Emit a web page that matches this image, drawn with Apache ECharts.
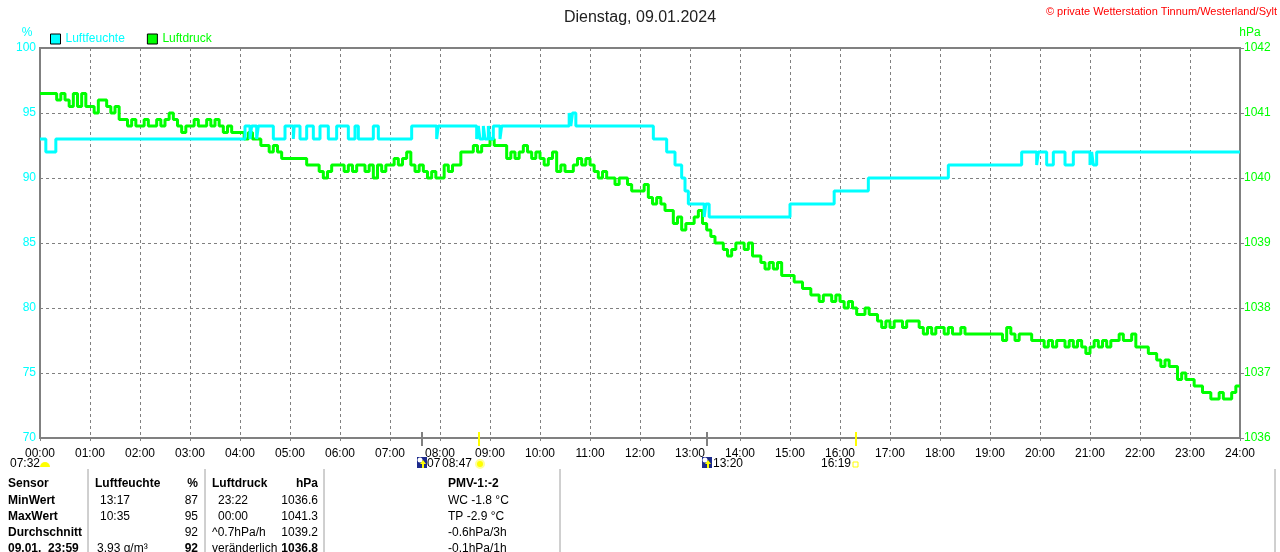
<!DOCTYPE html>
<html>
<head>
<meta charset="utf-8">
<script src="https://cdn.jsdelivr.net/npm/echarts@6/dist/echarts.min.js"></script>
<style>
  html, body { margin: 0; padding: 0; background: #fff; }
  #main { width: 1280px; height: 552px; }
</style>
</head>
<body>
<div id="main"></div>
<script>
// Luftfeuchte: Zeitpunkte (Minuten) an denen sich der Wert ändert
var humTimes = [0, 7, 19, 246, 252, 254, 260, 262, 280, 294, 304, 305, 312, 320, 328, 336, 346, 356, 370, 378, 382, 400, 406,
  446, 476, 478, 524, 526, 528, 532, 534, 538, 540, 544, 552, 554, 635, 637, 639, 643, 736, 752, 762, 770, 774, 778,
  797, 799, 803, 900, 953, 994, 1090, 1178, 1196, 1198, 1208, 1216, 1230, 1240, 1260, 1262, 1264, 1268, 1440];
var humValues = [93, 92, 93, 94, 93, 94, 93, 94, 93, 94, 93, 94, 93, 94, 93, 94, 93, 94, 93, 94, 93, 94, 93,
  94, 93, 94, 93, 94, 93, 94, 93, 94, 93, 94, 93, 94, 95, 94, 95, 94, 93, 92, 91, 90, 89, 88,
  87, 88, 87, 88, 89, 90, 91, 92, 91, 92, 91, 92, 91, 92, 91, 92, 91, 92, 92];

// Luftdruck alle 5 Minuten, eine Zeile je Stunde
var pressRows = [
  [1041.3,1041.3,1041.3,1041.3,1041.2,1041.3,1041.2,1041.1,1041.3,1041.1,1041.3,1041.1],
  [1041.1,1041.0,1041.2,1041.2,1041.1,1041.0,1041.1,1040.9,1040.9,1040.8,1040.9,1040.8],
  [1040.8,1040.9,1040.8,1040.8,1040.9,1040.8,1040.9,1041.0,1040.9,1040.8,1040.7,1040.8],
  [1040.8,1040.9,1040.8,1040.8,1040.9,1040.8,1040.9,1040.8,1040.7,1040.8,1040.7,1040.7],
  [1040.7,1040.6,1040.7,1040.6,1040.6,1040.5,1040.5,1040.4,1040.5,1040.4,1040.3,1040.3],
  [1040.3,1040.3,1040.3,1040.3,1040.2,1040.2,1040.2,1040.1,1040.0,1040.1,1040.2,1040.2],
  [1040.2,1040.1,1040.2,1040.1,1040.2,1040.2,1040.1,1040.2,1040.0,1040.2,1040.1,1040.2],
  [1040.2,1040.3,1040.2,1040.3,1040.4,1040.2,1040.1,1040.2,1040.1,1040.0,1040.1,1040.0],
  [1040.0,1040.2,1040.1,1040.2,1040.2,1040.4,1040.4,1040.4,1040.5,1040.4,1040.5,1040.5],
  [1040.6,1040.5,1040.5,1040.5,1040.3,1040.4,1040.3,1040.4,1040.5,1040.4,1040.3,1040.4],
  [1040.3,1040.2,1040.3,1040.4,1040.1,1040.2,1040.1,1040.1,1040.2,1040.3,1040.2,1040.3],
  [1040.2,1040.1,1040.0,1040.1,1040.0,1040.0,1039.9,1040.0,1040.0,1039.9,1039.8,1039.8],
  [1039.8,1039.9,1039.7,1039.6,1039.7,1039.6,1039.5,1039.5,1039.3,1039.4,1039.2,1039.3],
  [1039.3,1039.4,1039.5,1039.3,1039.2,1039.1,1039.0,1039.0,1038.9,1038.8,1038.9,1039.0],
  [1039.0,1038.9,1039.0,1038.8,1038.8,1038.7,1038.6,1038.7,1038.6,1038.7,1038.5,1038.5],
  [1038.5,1038.4,1038.4,1038.3,1038.3,1038.2,1038.2,1038.1,1038.2,1038.2,1038.1,1038.2],
  [1038.1,1038.0,1038.1,1038.0,1037.9,1037.9,1038.0,1037.9,1037.9,1037.8,1037.7,1037.8],
  [1037.7,1037.8,1037.8,1037.7,1037.8,1037.8,1037.8,1037.7,1037.6,1037.7,1037.6,1037.7],
  [1037.7,1037.6,1037.7,1037.6,1037.6,1037.7,1037.6,1037.6,1037.6,1037.6,1037.6,1037.6],
  [1037.6,1037.6,1037.6,1037.5,1037.7,1037.6,1037.5,1037.6,1037.6,1037.6,1037.5,1037.5],
  [1037.5,1037.4,1037.5,1037.4,1037.5,1037.5,1037.4,1037.5,1037.4,1037.5,1037.4,1037.3],
  [1037.4,1037.5,1037.4,1037.5,1037.4,1037.5,1037.5,1037.6,1037.5,1037.5,1037.6,1037.4],
  [1037.4,1037.4,1037.3,1037.3,1037.2,1037.1,1037.2,1037.1,1037.1,1036.9,1037.0,1036.9],
  [1036.9,1036.8,1036.8,1036.7,1036.7,1036.6,1036.6,1036.7,1036.6,1036.6,1036.7,1036.8],
  [1036.8]
];

var humTicks = [70, 75, 80, 85, 90, 95, 100];
var pressTicks = [1036, 1037, 1038, 1039, 1040, 1041, 1042];

// Mond/Sonne Markierungen unter der Zeitachse (Minuten)
var markTimes = [458, 527, 800, 979];
var markLabels = ['07', '08:47', '13:20', '16:19'];
var markColors = ['#808080', '#ffff00', '#808080', '#ffff00'];

// Tabelle
var tableRows = ['Sensor', 'MinWert', 'MaxWert', 'Durchschnitt', '09.01.  23:59'];
var humTime = ['', '13:17', '10:35', '', '3.93 g/m³'];
var humVal = ['%', '87', '95', '92', '92'];
var pressTime = ['Luftdruck', '23:22', '00:00', '^0.7hPa/h', 'veränderlich'];
var pressVal = ['hPa', '1036.6', '1041.3', '1039.2', '1036.8'];
var extraInfo = ['PMV-1:-2', 'WC -1.8 °C', 'TP -2.9 °C', '-0.6hPa/3h', '-0.1hPa/1h'];

var FONT = '"Liberation Sans", Arial, sans-serif';
var CYAN = '#00ffff', GREEN = '#00ff00', GRAY = '#808080';

function pad(n) { return (n < 10 ? '0' : '') + n; }

var humData = humTimes.map(function (t, i) { return [t, humValues[i]]; });
var pressData = [];
pressRows.forEach(function (row, h) {
    row.forEach(function (v, k) { pressData.push([h * 60 + k * 5, v]); });
});

var myChart = echarts.init(document.getElementById('main'));

var option = {
    animation: false,
    backgroundColor: '#fff',
    textStyle: { fontFamily: FONT },
    title: {
        text: 'Dienstag, 09.01.2024',
        left: 'center',
        top: 5,
        textStyle: { fontSize: 16, fontWeight: 'normal', color: '#222', fontFamily: FONT }
    },
    legend: {
        left: 50,
        top: 33,
        icon: 'rect',
        itemWidth: 10,
        itemHeight: 10,
        itemGap: 22,
        padding: 0,
        itemStyle: { borderColor: '#000', borderWidth: 1 },
        textStyle: { fontSize: 12, fontFamily: FONT },
        data: [
            { name: 'Luftfeuchte', textStyle: { color: CYAN } },
            { name: 'Luftdruck', textStyle: { color: GREEN } }
        ]
    },
    grid: {
        left: 40, right: 40, top: 48, bottom: 114,
        show: true, borderColor: GRAY, borderWidth: 2
    },
    xAxis: {
        type: 'value',
        min: 0, max: 1440, interval: 60,
        axisLine: { lineStyle: { color: GRAY, width: 2 } },
        axisTick: { show: true, length: 3, lineStyle: { color: GRAY } },
        axisLabel: {
            color: '#000', fontSize: 12, margin: 10, showMinLabel: true, showMaxLabel: true,
            formatter: function (v) { return pad(Math.round(v / 60)) + ':00'; }
        },
        splitLine: { show: true, lineStyle: { color: GRAY, type: [3, 3], width: 1 } }
    },
    yAxis: [
        {
            type: 'value',
            min: humTicks[0], max: humTicks[humTicks.length - 1], interval: 5,
            position: 'left',
            axisLine: { show: true, lineStyle: { color: GRAY, width: 2 } },
            axisTick: { show: false },
            axisLabel: { color: CYAN, fontSize: 12, margin: 4 },
            splitLine: { show: true, lineStyle: { color: GRAY, type: [3, 3], width: 1 } }
        },
        {
            type: 'value',
            min: pressTicks[0], max: pressTicks[pressTicks.length - 1], interval: 1,
            position: 'right',
            axisLine: { show: true, lineStyle: { color: GRAY, width: 2 } },
            axisTick: { show: true, length: 4, lineStyle: { color: GRAY } },
            axisLabel: { color: GREEN, fontSize: 12, margin: 4,
                formatter: function (v) { return String(v); } },
            splitLine: { show: false }
        }
    ],
    series: [
        {
            name: 'Luftfeuchte',
            type: 'line',
            step: 'end',
            yAxisIndex: 0,
            showSymbol: false,
            symbol: 'none',
            z: 4,
            color: CYAN,
            itemStyle: { color: CYAN },
            lineStyle: { color: CYAN, width: 3 },
            data: humData
        },
        {
            name: 'Luftdruck',
            type: 'line',
            step: 'end',
            yAxisIndex: 1,
            showSymbol: false,
            symbol: 'none',
            z: 3,
            color: GREEN,
            itemStyle: { color: GREEN },
            lineStyle: { color: GREEN, width: 3 },
            data: pressData
        }
    ]
};

myChart.setOption(option);

// Zusatzgrafik: Achsennamen, Copyright, Markierungen, Tabelle
function txt(x, y, s, opt) {
    opt = opt || {};
    return {
        type: 'text', silent: true, z: 10,
        style: {
            x: x, y: y, text: s,
            fill: opt.color || '#000',
            fontSize: opt.size || 12,
            fontFamily: FONT,
            fontWeight: opt.bold ? 'bold' : 'normal',
            align: opt.align || 'left',
            verticalAlign: 'middle'
        }
    };
}
function vline(x, y1, y2, color, w) {
    return { type: 'line', silent: true, z: 10,
        shape: { x1: x, y1: y1, x2: x, y2: y2 },
        style: { stroke: color, lineWidth: w || 1 } };
}
function moonIcon(cx, cy) {
    return [
        { type: 'rect', silent: true, z: 10, shape: { x: cx - 5, y: cy - 6, width: 10, height: 11 }, style: { fill: '#1c2a8c' } },
        { type: 'circle', silent: true, z: 11, shape: { cx: cx - 2, cy: cy - 3, r: 2.5 }, style: { fill: '#ffffff' } },
        { type: 'polygon', silent: true, z: 11, shape: { points: [[cx + 1, cy - 3], [cx + 4, cy + 1], [cx + 2, cy + 1], [cx + 2, cy + 5], [cx, cy + 5], [cx, cy + 1], [cx - 2, cy + 1]] }, style: { fill: '#ffff00' } }
    ];
}

var g = [];
g.push(txt(27, 33, '%', { color: CYAN, align: 'center' }));
g.push(txt(1250, 33, 'hPa', { color: GREEN, align: 'center' }));
g.push(txt(1277, 12, '© private Wetterstation Tinnum/Westerland/Sylt', { color: '#ff0000', align: 'right', size: 11 }));

// links unten: 07:32 mit Sonnensymbol
g.push(txt(10, 464, '07:32'));
g.push({ type: 'sector', silent: true, z: 10,
    shape: { cx: 45, cy: 467, r0: 0, r: 5, startAngle: Math.PI, endAngle: Math.PI * 2, clockwise: true },
    style: { fill: '#ffff00' } });

markTimes.forEach(function (t, i) {
    var x = Math.round(myChart.convertToPixel({ xAxisIndex: 0 }, t));
    g.push(vline(x, 432, 446, markColors[i], 2));
    if (i === 0) {
        g = g.concat(moonIcon(x, 463));
        g.push(txt(x + 5, 464, markLabels[i]));
    } else if (i === 1) {
        g.push({ type: 'circle', silent: true, z: 10, shape: { cx: x + 1, cy: 464, r: 4 },
            style: { fill: '#ffff00', stroke: '#ffff99', lineWidth: 2 } });
        g.push(txt(x - 7, 464, markLabels[i], { align: 'right' }));
    } else if (i === 2) {
        g = g.concat(moonIcon(x, 463));
        g.push(txt(x + 6, 464, markLabels[i]));
    } else {
        g.push({ type: 'rect', silent: true, z: 10, shape: { x: x - 3, y: 462, width: 5, height: 5 },
            style: { fill: 'none', stroke: '#ffff00', lineWidth: 1 } });
        g.push(txt(x - 5, 464, markLabels[i], { align: 'right' }));
    }
});

// Tabelle
var sepX = [88, 205, 324, 560, 1275];
sepX.forEach(function (x) { g.push(vline(x, 469, 552, '#a0a0a0', 1)); });
var rowY = [484, 501, 517, 533, 549];
rowY.forEach(function (y, r) {
    g.push(txt(8, y, tableRows[r], { bold: true }));
    if (r === 0) {
        g.push(txt(95, y, 'Luftfeuchte', { bold: true }));
    } else {
        g.push(txt(r === 4 ? 97 : 100, y, humTime[r]));
    }
    g.push(txt(198, y, humVal[r], { bold: r === 0 || r === 4, align: 'right' }));
    g.push(txt(r === 0 || r >= 3 ? 212 : 218, y, pressTime[r], { bold: r === 0 }));
    g.push(txt(318, y, pressVal[r], { bold: r === 0 || r === 4, align: 'right' }));
    g.push(txt(448, y, extraInfo[r], { bold: r === 0 }));
});

myChart.setOption({ graphic: g });
</script>
</body>
</html>
